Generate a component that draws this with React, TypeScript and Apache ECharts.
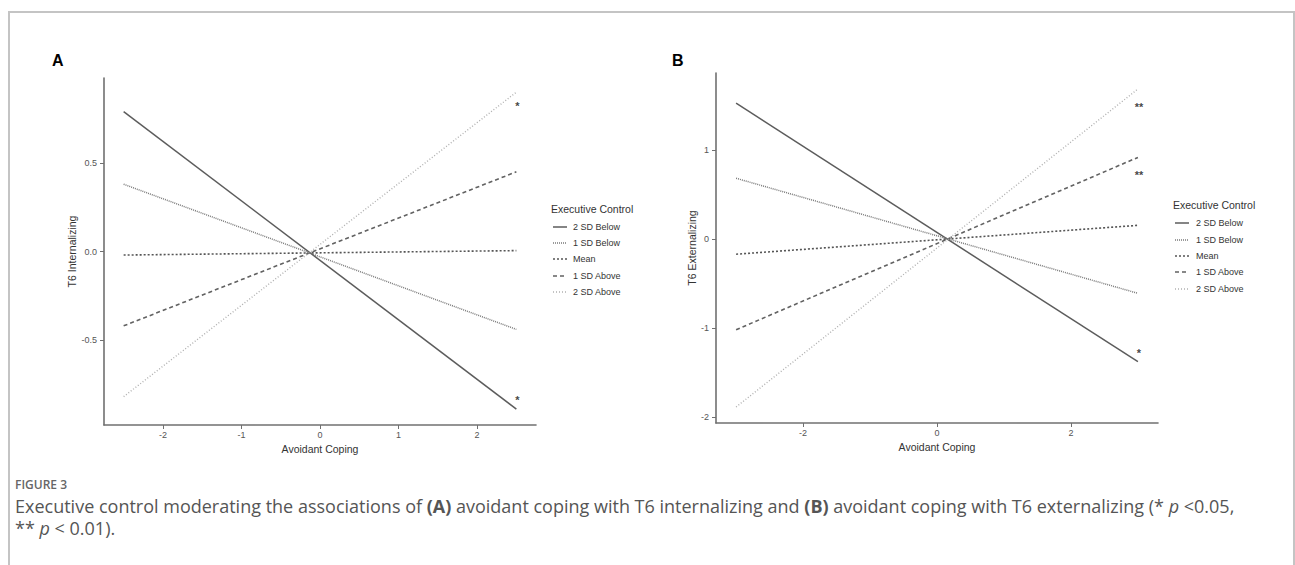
import React, { useEffect, useRef } from "react";
import * as echarts from "echarts";

const groups = ["2 SD Below", "1 SD Below", "Mean", "1 SD Above", "2 SD Above"];

// Panel A: avoidant coping (x) vs T6 internalizing (y), line end points
const xA = [-2.5, 2.5];
const aSD2Below = [0.79, -0.89];
const aSD1Below = [0.38, -0.44];
const aMean = [-0.02, 0.005];
const aSD1Above = [-0.42, 0.45];
const aSD2Above = [-0.82, 0.9];
const aStars = [
  [2.5, 0.84, "*"],
  [2.5, -0.82, "*"],
];
const aXTicks = [-2, -1, 0, 1, 2];
const aYTicks = [-0.5, 0, 0.5];

// Panel B: avoidant coping (x) vs T6 externalizing (y)
const xB = [-3, 3];
const bSD2Below = [1.53, -1.38];
const bSD1Below = [0.685, -0.61];
const bMean = [-0.17, 0.155];
const bSD1Above = [-1.02, 0.92];
const bSD2Above = [-1.89, 1.69];
const bStars = [
  [3, 1.52, "**"],
  [3, 0.75, "**"],
  [3, -1.25, "*"],
];
const bXTicks = [-2, 0, 2];
const bYTicks = [-2, -1, 0, 1];

const FONT = "'Liberation Sans', Arial, sans-serif";
const CAP_FONT = "'Open Sans', 'Noto Sans', sans-serif";
const CAP_SIZE = 18;

const lineStyles: any[] = [
  { color: "#5c5c5c", width: 1.5, type: "solid" },
  { color: "#7a7a7a", width: 1.5, type: [1, 1] },
  { color: "#555555", width: 1.6, type: [2, 2] },
  { color: "#626262", width: 1.6, type: [4, 3] },
  { color: "#b0b0b0", width: 1.4, type: [1, 2] },
];

function pairs(xs: number[], ys: number[]) {
  return xs.map((x, i) => [x, ys[i]]);
}

function axisX(gridIndex: number, min: number, max: number, ticks: number[]) {
  return {
    type: "value",
    gridIndex,
    min,
    max,
    name: "Avoidant Coping",
    nameLocation: "middle",
    nameGap: 15,
    nameTextStyle: { fontFamily: FONT, fontSize: 10.5, color: "#333" },
    splitLine: { show: false },
    axisLine: { show: true, onZero: false, lineStyle: { color: "#707070", width: 1.6 } },
    axisTick: { show: true, length: 4, customValues: ticks, lineStyle: { color: "#707070" } },
    axisLabel: {
      customValues: ticks,
      margin: 5,
      fontFamily: FONT,
      fontSize: 9,
      color: "#555",
      formatter: (v: number) => String(v),
    },
  };
}

function axisY(
  gridIndex: number,
  min: number,
  max: number,
  ticks: number[],
  name: string,
  gap: number,
  digits: number
) {
  return {
    type: "value",
    gridIndex,
    min,
    max,
    name,
    nameLocation: "middle",
    nameGap: gap,
    nameTextStyle: { fontFamily: FONT, fontSize: 10.5, color: "#333" },
    splitLine: { show: false },
    axisLine: { show: true, onZero: false, lineStyle: { color: "#707070", width: 1.6 } },
    axisTick: { show: true, length: 4, customValues: ticks, lineStyle: { color: "#707070" } },
    axisLabel: {
      customValues: ticks,
      margin: 7,
      fontFamily: FONT,
      fontSize: 9,
      color: "#555",
      formatter: (v: number) => v.toFixed(digits),
    },
  };
}

// legend drawn as graphic: title + sample line + label per group
function legendGraphic(titleX: number, titleY: number, lineX: number, textX: number, ys: number[]) {
  const els: any[] = [
    {
      type: "text",
      x: titleX,
      y: titleY,
      style: {
        text: "Executive Control",
        font: `10.5px ${FONT}`,
        fill: "#333",
        verticalAlign: "middle",
      },
    },
  ];
  groups.forEach((g, i) => {
    const ls = lineStyles[i];
    els.push({
      type: "line",
      shape: { x1: lineX, y1: ys[i], x2: lineX + 14, y2: ys[i] },
      style: {
        stroke: ls.color,
        lineWidth: ls.width,
        lineDash: Array.isArray(ls.type) ? ls.type : null,
      },
      silent: true,
    });
    els.push({
      type: "text",
      x: textX,
      y: ys[i],
      style: { text: g, font: `9px ${FONT}`, fill: "#333", verticalAlign: "middle" },
    });
  });
  return els;
}

export default function App() {
  const ref = useRef<HTMLDivElement>(null);

  useEffect(() => {
    if (!ref.current) return;
    const chart = echarts.init(ref.current, null, { renderer: "svg" });

    const aSets = [aSD2Below, aSD1Below, aMean, aSD1Above, aSD2Above];
    const bSets = [bSD2Below, bSD1Below, bMean, bSD1Above, bSD2Above];

    const series: any[] = [];
    groups.forEach((g, i) => {
      series.push({
        type: "line",
        name: g,
        xAxisIndex: 0,
        yAxisIndex: 0,
        data: pairs(xA, aSets[i]),
        symbol: "none",
        lineStyle: lineStyles[i],
        itemStyle: { color: lineStyles[i].color },
        silent: true,
      });
      series.push({
        type: "line",
        name: g,
        xAxisIndex: 1,
        yAxisIndex: 1,
        data: pairs(xB, bSets[i]),
        symbol: "none",
        lineStyle: lineStyles[i],
        itemStyle: { color: lineStyles[i].color },
        silent: true,
      });
    });

    const starSeries = (idx: number, data: any[]) => ({
      type: "scatter",
      name: "stars" + idx,
      xAxisIndex: idx,
      yAxisIndex: idx,
      data,
      symbolSize: 2,
      itemStyle: { color: "rgba(0,0,0,0)" },
      silent: true,
      label: {
        show: true,
        position: "inside",
        offset: [1, 3],
        formatter: (p: any) => p.value[2],
        fontFamily: FONT,
        fontSize: 11,
        fontWeight: "bold",
        color: "#111",
      },
    });
    series.push(starSeries(0, aStars));
    series.push(starSeries(1, bStars));

    const capRich = {
      b: { fontFamily: CAP_FONT, fontSize: CAP_SIZE, fontWeight: "bold", fill: "#555", lineHeight: 20 },
      i: { fontFamily: CAP_FONT, fontSize: CAP_SIZE, fontStyle: "italic", fill: "#555", lineHeight: 20 },
    };

    const option: any = {
      animation: false,
      backgroundColor: "#ffffff",
      grid: [
        { left: 104, top: 78, width: 432, height: 347, containLabel: false },
        { left: 716, top: 73, width: 442, height: 350, containLabel: false },
      ],
      xAxis: [axisX(0, -2.75, 2.75, aXTicks), axisX(1, -3.3, 3.3, bXTicks)],
      yAxis: [
        axisY(0, -0.98, 0.98, aYTicks, "T6 Internalizing", 20, 1),
        axisY(1, -2.07, 1.87, bYTicks, "T6 Externalizing", 15, 0),
      ],
      series,
      graphic: [
        {
          type: "rect",
          shape: { x: 9, y: 12, width: 1285, height: 600 },
          style: { fill: "none", stroke: "#c4c4c4", lineWidth: 2 },
          silent: true,
        },
        {
          type: "text",
          x: 52,
          y: 52,
          style: { text: "A", font: `bold 16px ${FONT}`, fill: "#000" },
        },
        {
          type: "text",
          x: 672,
          y: 52,
          style: { text: "B", font: `bold 16px ${FONT}`, fill: "#000" },
        },
        ...legendGraphic(551, 209, 553, 573, [227, 243, 259, 276, 292]),
        ...legendGraphic(1173, 205, 1175, 1196, [223, 240, 256, 272, 289]),
        {
          type: "text",
          x: 15,
          y: 484,
          style: {
            text: "FIGURE 3",
            font: `600 12px ${CAP_FONT}`,
            fill: "#666",
            verticalAlign: "middle",
          },
        },
        {
          type: "text",
          x: 15,
          y: 506,
          style: {
            text:
              "Executive control moderating the associations of {b|(A)} avoidant coping with T6 internalizing and {b|(B)} avoidant coping with T6 externalizing (* {i|p} <0.05,",
            font: `${CAP_SIZE}px ${CAP_FONT}`,
            fill: "#555",
            lineHeight: 20,
            verticalAlign: "middle",
            rich: capRich,
          },
        },
        {
          type: "text",
          x: 15,
          y: 528,
          style: {
            text: "** {i|p} < 0.01).",
            font: `${CAP_SIZE}px ${CAP_FONT}`,
            fill: "#555",
            lineHeight: 20,
            verticalAlign: "middle",
            rich: capRich,
          },
        },
      ],
    };

    chart.setOption(option);
    return () => chart.dispose();
  }, []);

  return (
    <div
      ref={ref}
      style={{ position: "fixed", left: 0, top: 0, width: 1295, height: 565, background: "#fff" }}
    />
  );
}
